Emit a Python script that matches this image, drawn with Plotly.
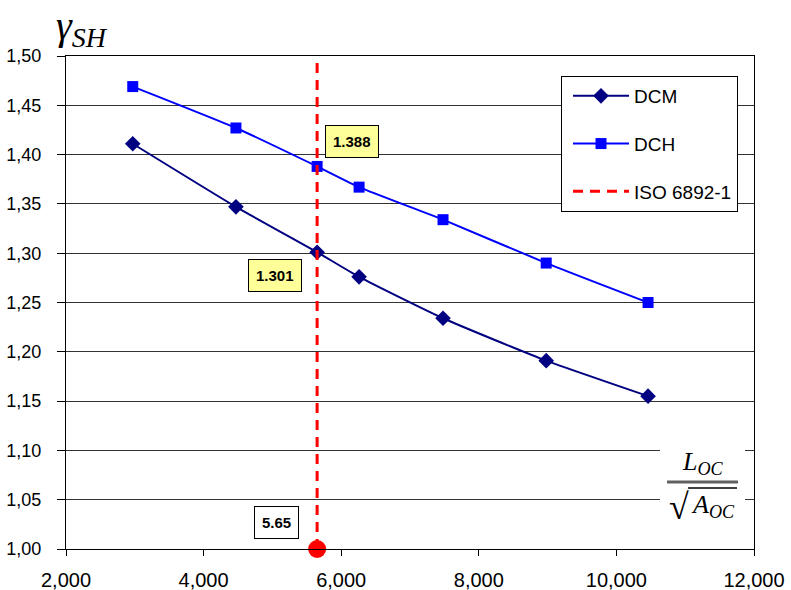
import plotly.graph_objects as go

# Specimen geometry ratio L_OC / sqrt(A_OC)
x_ratio = [2970, 4470, 5650, 6260, 7480, 8980, 10460]
dcm = [1.411, 1.347, 1.301, 1.276, 1.234, 1.191, 1.155]
dch = [1.469, 1.427, 1.388, 1.367, 1.334, 1.290, 1.250]
iso_x = 5650
y_ticks = [1.00, 1.05, 1.10, 1.15, 1.20, 1.25, 1.30, 1.35, 1.40, 1.45, 1.50]
x_ticks = [2000, 4000, 6000, 8000, 10000, 12000]

NAVY = "#000080"
BLUE = "#0000FF"
RED = "#FF0000"
FONT = "Liberation Sans, Arial, sans-serif"
SERIF = "Liberation Serif, Times New Roman, serif"

fig = go.Figure()
fig.add_trace(go.Scatter(
    x=x_ratio, y=dcm, name="DCM", mode="lines+markers", legendgroup="a",
    line=dict(color=NAVY, width=2, shape="spline", smoothing=0.5),
    marker=dict(symbol="diamond", size=12, color=NAVY),
))
fig.add_trace(go.Scatter(
    x=x_ratio, y=dch, name="DCH", mode="lines+markers", legendgroup="b",
    line=dict(color=BLUE, width=2, shape="spline", smoothing=0.5),
    marker=dict(symbol="square", size=11, color=BLUE),
))
fig.add_trace(go.Scatter(
    x=[iso_x, iso_x], y=[y_ticks[0], y_ticks[-1]], name="ISO 6892-1",
    mode="lines", legendgroup="c",
    line=dict(color=RED, width=3, dash="10px,7px"),
))
fig.add_trace(go.Scatter(
    x=[iso_x], y=[y_ticks[0]], mode="markers", showlegend=False,
    marker=dict(symbol="circle", size=18, color=RED), cliponaxis=False,
))


def px(v):
    return (v - 66) / 688


def py(v):
    return 1 - (v - 56) / 493


def note(x, y, text, **kw):
    kw.setdefault("xanchor", "center")
    fig.add_annotation(x=px(x), y=py(y), xref="paper", yref="paper",
                       yanchor="middle", showarrow=False, text=text, **kw)


# Value call-outs
i_iso = x_ratio.index(iso_x)
box = dict(bordercolor="black", borderwidth=1, borderpad=7,
           font=dict(family=FONT, size=15, color="black", weight="bold"))
note(352, 141, f"{dch[i_iso]:.3f}", bgcolor="#FFFF99", **box)
note(275, 275, f"{dcm[i_iso]:.3f}", bgcolor="#FFFF99", **box)
note(276, 522, f"{iso_x / 1000:.2f}", bgcolor="white", **box)

# Y axis title
note(54, 28, "<i>γ<sub>SH</sub></i>", xanchor="left",
     font=dict(family=SERIF, size=40, color="black"))

# Fraction L_OC / sqrt(A_OC) on a white patch
fig.add_shape(type="rect", xref="paper", yref="paper", x0=px(660), x1=px(745),
              y0=py(530), y1=py(442), fillcolor="white", line_width=0, layer="above")
fig.add_shape(type="line", xref="paper", yref="paper", x0=px(667), x1=px(738),
              y0=py(482), y1=py(482), line=dict(color="#606060", width=3), layer="above")
fig.add_shape(type="line", xref="paper", yref="paper", x0=px(688), x1=px(737),
              y0=py(488), y1=py(488), line=dict(color="black", width=1.5), layer="above")
note(703, 463, "<i>L<sub>OC</sub></i>", font=dict(family=SERIF, size=26, color="black"))
note(679, 507, "√", font=dict(family=SERIF, size=36, color="black"))
note(689, 506, "<i>A<sub>OC</sub></i>", xanchor="left",
     font=dict(family=SERIF, size=26, color="black"))

fig.update_layout(
    width=791, height=590,
    margin=dict(l=66, r=37, t=56, b=41, autoexpand=False),
    plot_bgcolor="white", paper_bgcolor="white",
    font=dict(family=FONT, size=17, color="black"),
    showlegend=True,
    legend=dict(x=px(561), y=py(76), xanchor="left", yanchor="top",
                bordercolor="black", borderwidth=1, bgcolor="white",
                font=dict(family=FONT, size=19, color="black"),
                tracegroupgap=20, itemwidth=56, indentation=6),
)
fig.update_xaxes(range=[2000, 12000], tickvals=x_ticks, tickformat=",.0f",
                 tickfont=dict(size=20),
                 showgrid=False, zeroline=False, showline=True, linecolor="black",
                 linewidth=1, mirror=True, ticks="outside", ticklen=6,
                 tickcolor="black", ticklabelstandoff=7, automargin=False)
fig.update_yaxes(range=[1.0, 1.5], tickvals=y_ticks,
                 ticktext=[f"{v:.2f}".replace(".", ",") for v in y_ticks],
                 tickfont=dict(size=18),
                 showgrid=True, gridcolor="#333333", gridwidth=1, zeroline=False,
                 showline=True, linecolor="black", linewidth=1, mirror=True,
                 ticks="outside", ticklen=8, tickcolor="black",
                 ticklabelstandoff=12, automargin=False)

fig.write_html("out.html")
